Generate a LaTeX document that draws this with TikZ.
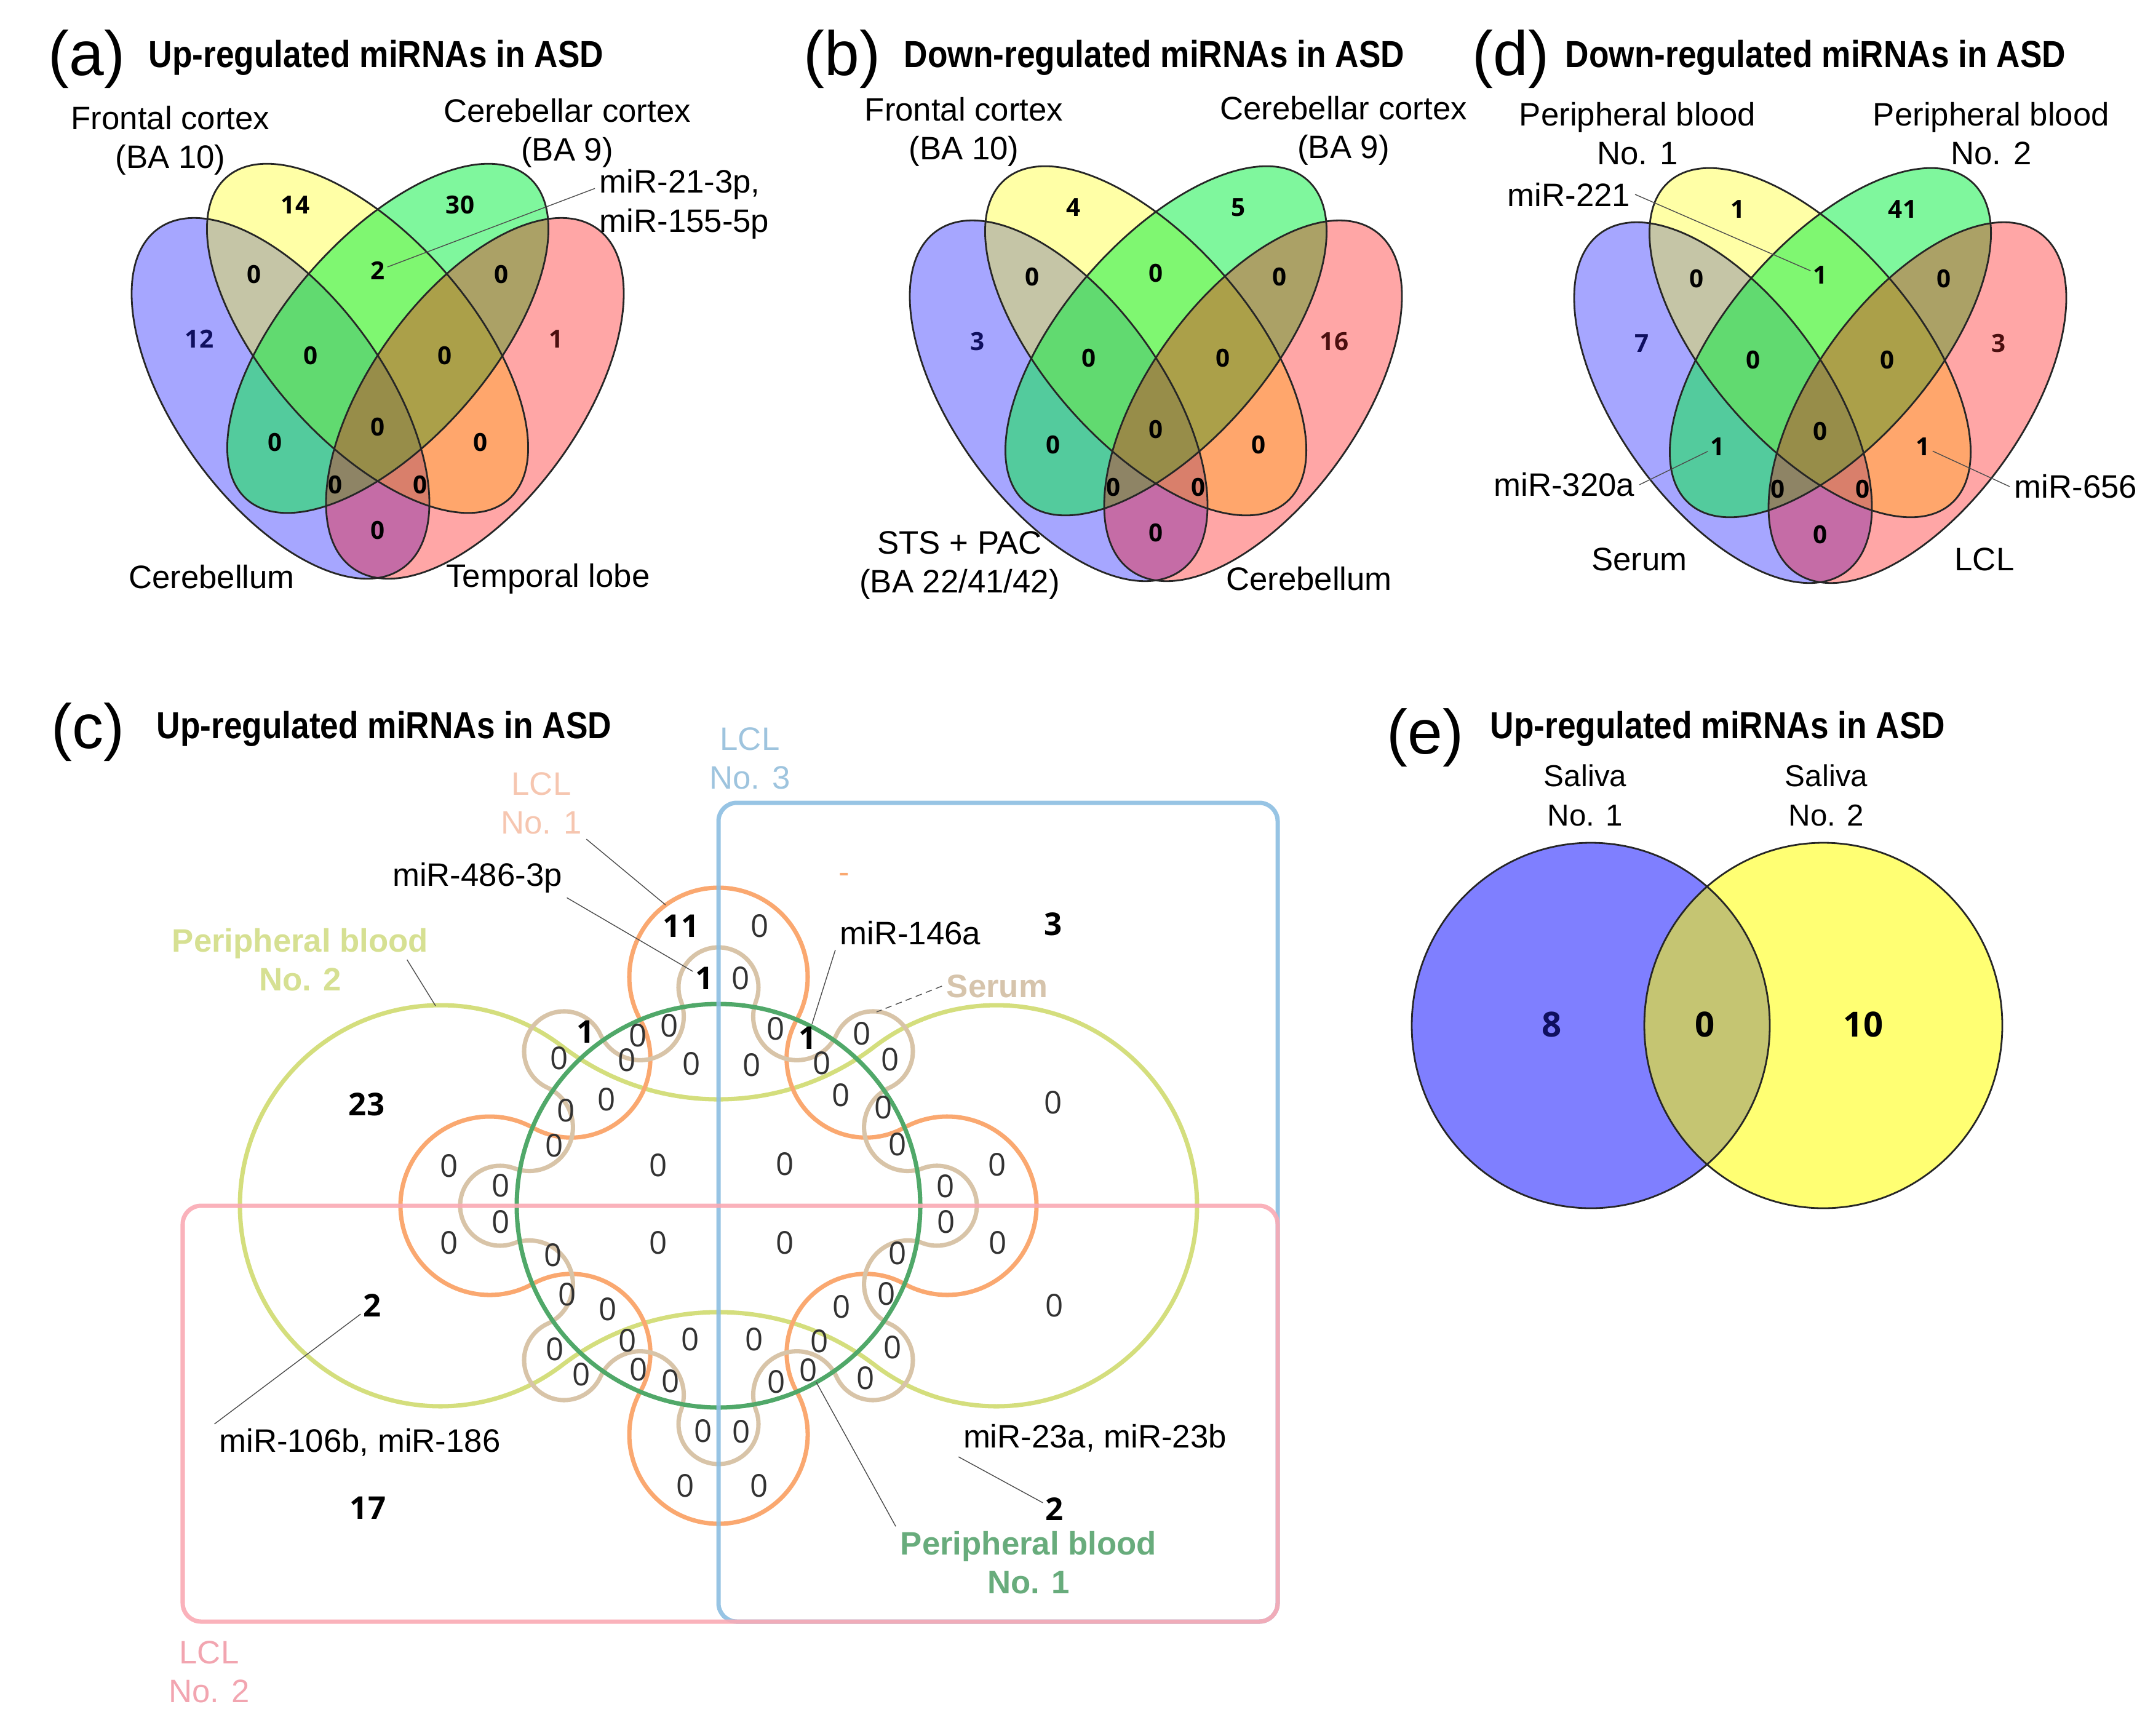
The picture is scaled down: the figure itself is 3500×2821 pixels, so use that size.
\documentclass[tikz,border=0pt]{standalone}
\usepackage{graphicx}
\usepackage{fontspec}
\setmainfont{Liberation Sans}
\newfontfamily\numfont{Open Sans}
\usetikzlibrary{positioning}

\definecolor{vblue}{RGB}{0,0,255}
\definecolor{vyellow}{RGB}{255,255,0}
\definecolor{vgreen}{RGB}{0,240,60}
\definecolor{vred}{RGB}{255,0,0}
\definecolor{bnum}{RGB}{15,15,95}
\definecolor{rnum}{RGB}{75,15,15}
\definecolor{lclone}{RGB}{250,168,112}
\definecolor{lcloneT}{RGB}{246,198,176}
\definecolor{lcltwo}{RGB}{250,170,180}
\definecolor{lcltwoT}{RGB}{242,165,176}
\definecolor{lclthree}{RGB}{140,190,225}
\definecolor{lclthreeT}{RGB}{158,196,222}
\definecolor{pbone}{RGB}{80,168,105}
\definecolor{pboneT}{RGB}{104,172,124}
\definecolor{pbtwo}{RGB}{212,222,125}
\definecolor{pbtwoT}{RGB}{214,224,146}
\definecolor{serum}{RGB}{216,196,168}
\definecolor{serumT}{RGB}{214,196,172}
\definecolor{zerogrey}{RGB}{50,50,50}

\newcommand\narrowbf[1]{\scalebox{0.87}[1]{#1}}

\tikzset{
  panelmark/.style={font=\fontsize{29}{32}\selectfont, anchor=west, inner sep=0pt},
  paneltitle/.style={font=\fontsize{17.4}{20}\selectfont\bfseries, anchor=west, inner sep=0pt},
  setlab/.style={font=\fontsize{15}{18}\selectfont, align=center, inner sep=2pt},
  boldlab/.style={setlab, font=\fontsize{15}{18}\selectfont\bfseries},
  vnum/.style={font=\numfont\fontsize{11.5}{12}\selectfont\bfseries, inner sep=1pt},
  cnum/.style={font=\numfont\fontsize{14.5}{15}\selectfont, text=zerogrey, inner sep=1pt},
  cbold/.style={font=\numfont\fontsize{14.5}{15}\selectfont\bfseries, inner sep=1pt},
  salnum/.style={font=\numfont\fontsize{16}{17}\selectfont\bfseries, inner sep=1pt},
  leader/.style={draw=black!70, line width=0.4pt},
  vedge/.style={draw=black!85, line width=0.8pt},
  cline/.style={line width=2pt},
  vb/.style={fill=vblue, fill opacity=.35},
  vy/.style={fill=vyellow, fill opacity=.35},
  vg/.style={fill=vgreen, fill opacity=.5},
  vr/.style={fill=vred, fill opacity=.35}
}

\begin{document}
\begin{tikzpicture}[x=0.01cm, y=-0.01cm]
\useasboundingbox (0,0) rectangle (3500,2821);

\foreach \cx/\dy in {614/0, 1879/4, 2959/7} {
  \begin{scope}[shift={(\cx,\dy)}]
    \fill[vb, rotate around={-54.2:(-158,647.5)}] (-158,647.5) ellipse[x radius=340, y radius=170];
    \fill[vy, rotate around={-48.8:(-16.5,550)}] (-16.5,550) ellipse[x radius=348, y radius=166];
    \fill[vg, rotate around={48.8:(16.5,550)}] (16.5,550) ellipse[x radius=348, y radius=166];
    \fill[vr, rotate around={54.2:(158,647.5)}] (158,647.5) ellipse[x radius=340, y radius=170];
    \draw[vedge, rotate around={-54.2:(-158,647.5)}] (-158,647.5) ellipse[x radius=340, y radius=170];
    \draw[vedge, rotate around={-48.8:(-16.5,550)}] (-16.5,550) ellipse[x radius=348, y radius=166];
    \draw[vedge, rotate around={48.8:(16.5,550)}] (16.5,550) ellipse[x radius=348, y radius=166];
    \draw[vedge, rotate around={54.2:(158,647.5)}] (158,647.5) ellipse[x radius=340, y radius=170];
  \end{scope}
}

\foreach \n/\x/\y/\t/\c in {a1/480/333/14/black, a2/748/333/30/black, a3/324/551/12/bnum, a4/904/551/1/rnum,
    a5/413/446/0/black, a6/614/440/2/black, a7/815/446/0/black, a8/505/578/0/black, a9/723/578/0/black,
    a10/614/694/0/black, a11/447/719/0/black, a12/781/719/0/black, a13/545/788/0/black, a14/683/788/0/black,
    a15/614/862/0/black,
    b1/1745/337/4/black, b2/2013/337/5/black, b3/1589/555/3/bnum, b4/2169/555/16/rnum,
    b5/1678/450/0/black, b6/1879/444/0/black, b7/2080/450/0/black, b8/1770/582/0/black, b9/1988/582/0/black,
    b10/1879/698/0/black, b11/1712/723/0/black, b12/2046/723/0/black, b13/1810/792/0/black, b14/1948/792/0/black,
    b15/1879/866/0/black,
    d1/2825/340/1/black, d2/3093/340/41/black, d3/2669/558/7/bnum, d4/3249/558/3/rnum,
    d5/2758/453/0/black, d6/2959/447/1/black, d7/3160/453/0/black, d8/2850/585/0/black, d9/3068/585/0/black,
    d10/2959/701/0/black, d11/2792/726/1/black, d12/3126/726/1/black, d13/2890/795/0/black, d14/3028/795/0/black,
    d15/2959/869/0/black}
  \node[vnum, text=\c] (\n) at (\x,\y) {\t};

\node[panelmark] (pa) at (78,96) {(a)};
\node[paneltitle] (ta) at (241,94) {\narrowbf{Up-regulated miRNAs in ASD}};
\node[setlab] (fca) at (277,228) {Frontal cortex\\(BA 10)};
\node[setlab] (cca) at (922,216) {Cerebellar cortex\\(BA 9)};
\node[setlab, align=left, anchor=west] (mir21) at (967,332) {miR-21-3p,\\miR-155-5p};
\node[setlab] (cba) at (344,938) {Cerebellum};
\node[setlab] (tla) at (891,941) {Temporal lobe};
\draw[leader] (mir21.170) -- (a6);

\node[panelmark] (pb) at (1306,96) {(b)};
\node[paneltitle] (tb) at (1469,94) {\narrowbf{Down-regulated miRNAs in ASD}};
\node[setlab] (fcb) at (1567,214) {Frontal cortex\\(BA 10)};
\node[setlab] (ccb) at (2184,212) {Cerebellar cortex\\(BA 9)};
\node[setlab] (stsb) at (1560,919) {STS + PAC\\(BA 22/41/42)};
\node[setlab] (cbb) at (2128,941) {Cerebellum};

\node[panelmark] (pd) at (2393,96) {(d)};
\node[paneltitle] (td) at (2544,94) {\narrowbf{Down-regulated miRNAs in ASD}};
\node[setlab] (pb1d) at (2662,217) {Peripheral blood\\No. 1};
\node[setlab] (pb2d) at (3237,217) {Peripheral blood\\No. 2};
\node[setlab, anchor=east] (mir221) at (2658,316) {miR-221};
\node[setlab, anchor=east] (mir320) at (2665,788) {miR-320a};
\node[setlab, anchor=west] (mir656) at (3267,791) {miR-656};
\node[setlab] (serd) at (2665,909) {Serum};
\node[setlab] (lcld) at (3226,909) {LCL};
\draw[leader] (mir221.east) -- (d6);
\draw[leader] (mir320.east) -- (d11);
\draw[leader] (mir656.west) -- (d12);

\fill[fill=vblue, fill opacity=.5] (2586,1667) ellipse[x radius=291, y radius=297];
\fill[fill=vyellow, fill opacity=.55] (2964,1667) ellipse[x radius=291, y radius=297];
\draw[vedge] (2586,1667) ellipse[x radius=291, y radius=297];
\draw[vedge] (2964,1667) ellipse[x radius=291, y radius=297];
\node[panelmark] (pe) at (2254,1199) {(e)};
\node[paneltitle] (te) at (2422,1185) {\narrowbf{Up-regulated miRNAs in ASD}};
\node[setlab, font=\fontsize{14}{18}\selectfont] (sal1) at (2577,1293) {Saliva\\No. 1};
\node[setlab, font=\fontsize{14}{18}\selectfont] (sal2) at (2969,1293) {Saliva\\No. 2};
\node[salnum, text=bnum] (e1) at (2523,1665) {8};
\node[salnum] (e2) at (2772,1665) {0};
\node[salnum] (e3) at (3029,1665) {10};

\draw[pbtwo, cline] (914.04,1701.06) arc[start angle=-52.59, end angle=-307.41, radius=326]
  arc[start angle=232.59, end angle=307.41, radius=418]
  arc[start angle=127.41, end angle=-127.41, radius=326]
  arc[start angle=52.59, end angle=127.41, radius=418] -- cycle;
\draw[lclone, cline] (1041.13,1658.2) \foreach \p in {270,360,450,540} {
  arc[start angle=\p-118.95, end angle=\p+118.95, radius=145]
  arc[start angle=\p+298.95, end angle=\p+151.05, radius=128.71]} -- cycle;
\draw[serum, cline] (1107.08,1627.66) \foreach \p in {270,315,...,585} {
  arc[start angle=\p-110.41, end angle=\p+110.41, radius=65]
  arc[start angle=\p+290.41, end angle=\p+114.59, radius=70.94]} -- cycle;
\draw[pbone, cline] (1168,1960) circle[radius=328];
\draw[lclthree, cline, draw opacity=.9, rounded corners=8.5pt] (1168,1305) rectangle (2077,2636);
\draw[lcltwo, cline, draw opacity=.9, rounded corners=8.5pt] (297,1960) rectangle (2077,2636);

\node[panelmark] (pc) at (83,1190) {(c)};
\node[paneltitle] (tc) at (254,1185) {\narrowbf{Up-regulated miRNAs in ASD}};
\node[setlab, text=lclthreeT] (lcl3lab) at (1219,1233) {LCL\\No. 3};
\node[setlab, text=lcloneT] (lcl1lab) at (880,1306) {LCL\\No. 1};
\node[setlab] (mir486) at (776,1427) {miR-486-3p};
\node[boldlab, text=pbtwoT] (pb2lab) at (488,1560) {Peripheral blood\\No. 2};
\node[setlab] (mir146) at (1480,1517) {miR-146a};
\node[boldlab, text=serumT] (serumlab) at (1621,1603) {Serum};
\node[setlab, text=lclone] (dash) at (1372,1427) {-};
\node[setlab] (mir106) at (585,2345) {miR-106b, miR-186};
\node[setlab] (mir23) at (1780,2338) {miR-23a, miR-23b};
\node[boldlab, text=pboneT] (pb1lab) at (1672,2540) {Peripheral blood\\No. 1};
\node[setlab, text=lcltwoT] (lcl2lab) at (340,2718) {LCL\\No. 2};

\node[cbold] (c11) at (1107,1505) {11};
\node[cbold] (c1top) at (1145,1590) {1};
\node[cbold] (c1nw) at (952,1677) {1};
\node[cbold] (c1ne) at (1313,1687) {1};
\node[cbold] (c3) at (1712,1502) {3};
\node[cbold] (c23) at (596,1795) {23};
\node[cbold] (c2l) at (605,2122) {2};
\node[cbold] (c17) at (598,2451) {17};
\node[cbold] (c2r) at (1714,2453) {2};

\foreach \x/\y [count=\i] in {1235/1505, 1204/1590, 1261/1672, 1222/1731, 1336/1728, 1401/1680, 1447/1722,
    1367/1780, 1436/1800, 1459/1860, 1712/1792, 1276/1892, 1621/1893, 1537/1928,
    1088/1667, 1124/1729, 1019/1723, 1037/1683, 909/1720, 986/1787, 920/1805, 901/1862, 1070/1894,
    730/1895, 814/1927,
    814/1986, 730/2020, 1070/2020, 899/2040, 922/2104, 988/2128, 902/2193, 1020/2179, 1122/2177,
    945/2234, 1038/2226, 1090/2245, 1143/2326, 1114/2415,
    1538/1986, 1276/2020, 1622/2020, 1459/2037, 1441/2103, 1368/2124, 1714/2122, 1451/2190, 1332/2180,
    1226/2177, 1314/2227, 1262/2246, 1407/2240, 1205/2327, 1234/2415}
  \node[cnum] (cz\i) at (\x,\y) {0};

\coordinate (lcl1pt) at (1082,1471);
\coordinate (pb2pt) at (708,1635);
\coordinate (serumpt) at (1425,1645);
\coordinate (pb1pt) at (1327,2247);
\draw[leader] (lcl1lab.south east) -- (lcl1pt);
\draw[leader] (mir486.south east) -- (c1top);
\draw[leader] ([xshift=-12pt]pb2lab.east) -- (pb2pt);
\draw[leader] (mir146.south west) -- (c1ne);
\draw[leader, densely dashed] (serumlab.west) -- (serumpt);
\draw[leader] (mir106.north west) -- (c2l);
\draw[leader] (mir23.south west) -- (c2r);
\draw[leader] (pb1lab.north west) -- (pb1pt);
\end{tikzpicture}
\end{document}
